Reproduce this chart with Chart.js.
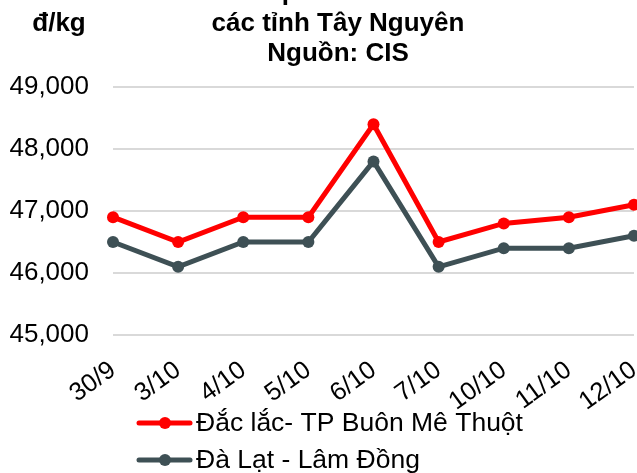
<!DOCTYPE html>
<html>
<head>
<meta charset="utf-8">
<script src="https://cdn.jsdelivr.net/npm/chart.js@4/dist/chart.umd.min.js"></script>
<style>
	html, body { margin: 0; padding: 0; background: #fff; overflow: hidden; }
	#wrap { position: absolute; left: 0; top: -30px; width: 660px; height: 503px; }
</style>
</head>
<body>
<div id="wrap"><canvas id="priceChart" width="660" height="503"></canvas></div>
<script>
const days = [ '30/9', '3/10', '4/10', '5/10', '6/10', '7/10', '10/10', '11/10', '12/10' ]
const dakLak = [ 46900, 46500, 46900, 46900, 48400, 46500, 46800, 46900, 47100 ]
const daLat = [ 46500, 46100, 46500, 46500, 47800, 46100, 46400, 46400, 46600 ]
const yTicks = [ 45000, 46000, 47000, 48000, 49000 ]

const titleLines = [ 'Giá cà phê vối nhân xô', 'các tỉnh Tây Nguyên', 'Nguồn: CIS' ]
const unitLabel = 'đ/kg'
const fontFamily = '"Liberation Sans", Arial, sans-serif'

const lineSet = (label, data, color) => {
	return {
		label,
		data,
		borderColor: color,
		backgroundColor: color,
		borderWidth: 5,
		pointRadius: 6,
		pointHoverRadius: 6,
		pointBorderWidth: 0,
		tension: 0,
		clip: false
	}
}

// title, unit and the two-row legend are painted by hand
const decorations = {
	id: 'decorations',
	afterDraw(chart) {
		const ctx = chart.ctx
		ctx.save()
		ctx.fillStyle = '#000'
		ctx.textBaseline = 'middle'
		ctx.textAlign = 'center'
		ctx.font = 'bold 26px ' + fontFamily
		const titleY = [ 23, 54, 84 ]
		titleLines.forEach((t, i) => ctx.fillText(t, 338, titleY[i]))
		ctx.fillText(unitLabel, 59, 54)

		ctx.font = '26.5px ' + fontFamily
		ctx.textAlign = 'left'
		chart.data.datasets.forEach((ds, i) => {
			const y = 453 + i * 37
			ctx.strokeStyle = ds.borderColor
			ctx.lineWidth = 5
			ctx.lineCap = 'round'
			ctx.beginPath()
			ctx.moveTo(139, y)
			ctx.lineTo(190, y)
			ctx.stroke()
			ctx.fillStyle = ds.borderColor
			ctx.beginPath()
			ctx.arc(165, y, 6, 0, Math.PI * 2)
			ctx.fill()
			ctx.fillStyle = '#000'
			ctx.fillText(ds.label, 196, y + 1)
		})
		ctx.restore()
	}
}

const priceChart = document.getElementById( 'priceChart' )
new Chart( priceChart, {
	type: 'line',
	data: {
		labels: days,
		datasets: [
			lineSet('Đắc lắc- TP Buôn Mê Thuột', dakLak, '#ff0000'),
			lineSet('Đà Lạt - Lâm Đồng', daLat, '#3e5055')
		]
	},
	options: {
		responsive: false,
		animation: false,
		layout: {
			padding: { left: 0, right: 26, top: 117, bottom: 0 }
		},
		plugins: {
			legend: { display: false },
			tooltip: { enabled: false }
		},
		scales: {
			x: {
				grid: { display: false },
				border: { display: false },
				ticks: {
					color: '#000',
					font: { family: fontFamily, size: 25.5 },
					minRotation: 36,
					maxRotation: 36,
					padding: 12,
					autoSkip: false
				},
				afterFit: (scale) => {
					scale.height = 138
					scale.paddingLeft = 0
					scale.paddingRight = 0
				}
			},
			y: {
				min: 45000,
				max: 49000,
				afterBuildTicks: (scale) => { scale.ticks = yTicks.map(v => ({ value: v })) },
				grid: { color: '#d9d9d9', lineWidth: 2, drawTicks: false },
				border: { display: false },
				ticks: {
					color: '#000',
					font: { family: fontFamily, size: 26 },
					padding: 24,
					callback: (v) => v.toLocaleString('en-US')
				},
				afterFit: (scale) => { scale.width = 113 }
			}
		}
	},
	plugins: [ decorations ]
} )
</script>
</body>
</html>
